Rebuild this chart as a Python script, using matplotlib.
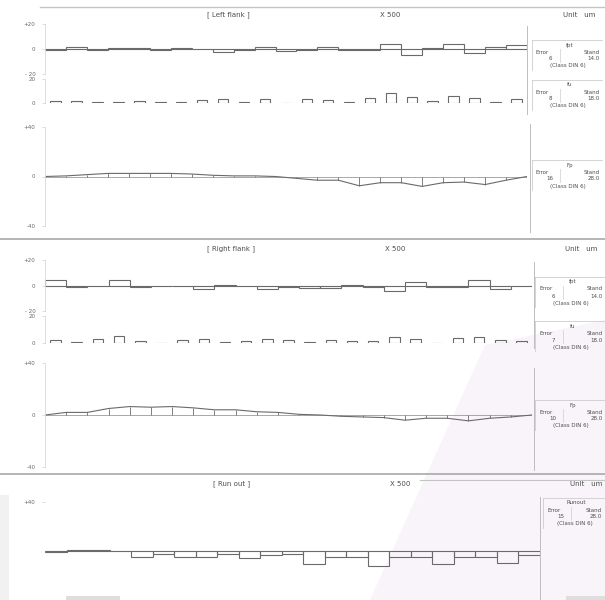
import matplotlib
matplotlib.use("Agg")
import matplotlib.pyplot as plt
from matplotlib.lines import Line2D
from matplotlib.patches import Rectangle, Polygon
import numpy as np

# ---- measured values (micrometres), 23 teeth ----
teeth = np.arange(23)
points = np.arange(24)

left_fpt = [-0.5, 1.5, -0.5, 0.5, 0.5, -1.0, 0.5, 0.0, -2.5, -0.5, 1.5, -1.5,
            -0.5, 1.5, -1.0, -0.5, 4.0, -5.0, 0.5, 4.0, -3.0, 1.5, 3.0]
left_fu = [2.0, 2.0, 1.0, 1.0, 1.5, 1.0, 1.0, 2.5, 3.0, 1.0, 3.5, 0.3,
           3.0, 2.5, 1.0, 4.0, 8.0, 5.0, 1.5, 5.5, 4.5, 1.0, 3.0]
left_fp = [0.0, 0.5, 1.5, 2.5, 2.5, 2.5, 2.5, 2.0, 1.0, 0.5, 0.5, 0.0,
           -1.5, -3.0, -3.0, -7.5, -5.0, -5.0, -8.0, -5.0, -4.5, -6.5, -3.0, 0.0]

right_fpt = [4.5, -1.0, -0.5, 4.5, -1.5, 0.0, 0.0, -2.5, 0.5, -0.5, -2.5, -1.5,
             -2.0, -2.0, 0.5, -1.5, -4.0, 2.5, -1.5, -1.5, 4.5, -3.0, -0.5]
right_fu = [2.0, 0.5, 2.7, 5.3, 1.6, 0.3, 2.0, 2.7, 0.8, 1.3, 3.2, 2.0,
            0.5, 2.0, 1.3, 1.3, 4.8, 3.2, 0.3, 4.0, 4.8, 1.9, 1.3]
right_fp = [0.0, 2.0, 2.0, 5.0, 6.5, 6.0, 6.5, 5.5, 4.0, 4.0, 2.5, 2.0,
            0.5, 0.0, -1.0, -1.5, -2.0, -4.0, -2.5, -2.5, -4.5, -2.5, -1.5, 0.0]

runout = [-0.5, 0.5, 0.5, 0.0, -4.5, -2.5, -4.5, -4.5, -2.5, -6.0, -3.5, -2.5,
          -11.0, -5.0, -5.0, -12.5, -5.0, -5.0, -11.0, -4.5, -5.0, -10.0, -3.5]

# summary tables: (name, error, standard)
left_info = [("fpt", "6", "14.0"), ("fu", "8", "18.0"), ("Fp", "16", "28.0")]
right_info = [("fpt", "6", "14.0"), ("fu", "7", "18.0"), ("Fp", "10", "28.0")]
runout_info = ("Runout", "15", "28.0")

W, H = 605, 600
fig = plt.figure(figsize=(W / 100, H / 100), dpi=100)
fig.patch.set_facecolor("white")

INK = "#6a6a6a"
TXT = "#4d4d4d"
FAINT = "#cdcdcd"


def fx(x):
    return x / W


def fy(y):
    return 1 - y / H


def hline(y, x0, x1, color="#b5b5b5", lw=1.0):
    fig.add_artist(Line2D([fx(x0), fx(x1)], [fy(y), fy(y)], color=color, lw=lw))


def vline(x, y0, y1, color="#bdbdbd", lw=0.7):
    fig.add_artist(Line2D([fx(x), fx(x)], [fy(y0), fy(y1)], color=color, lw=lw))


def panel(x0, x1, y_top, y_bot, ylim, ticks, labels):
    ax = fig.add_axes([fx(x0), fy(y_bot), (x1 - x0) / W, (y_bot - y_top) / H])
    ax.set_xlim(0, 23)
    ax.set_ylim(*ylim)
    ax.patch.set_alpha(0)
    for s in ("top", "right", "bottom"):
        ax.spines[s].set_visible(False)
    ax.spines["left"].set_color("#d8d8d8")
    ax.spines["left"].set_linewidth(0.6)
    ax.set_xticks([])
    ax.set_yticks(ticks, labels)
    ax.tick_params(axis="y", labelsize=4, labelcolor="#666666", color="#d0d0d0",
                   length=2, width=0.5, pad=5)
    return ax


def step_boxes(ax, values):
    ax.bar(teeth + 0.5, values, width=1.0, fill=False, edgecolor=INK, linewidth=0.8)


def small_bars(ax, values):
    ax.bar(teeth + 0.5, values, width=0.5, fill=False, edgecolor=INK, linewidth=0.8)


def cumulative(ax, values):
    ax.axhline(0, color="#9a9a9a", lw=0.6)
    ax.vlines(points, 0, values, color=INK, lw=0.6)
    ax.plot(points, values, color=INK, lw=0.8)


def info_box(x, y, name, err, std, w=70):
    hline(y, x, x + w, color=FAINT, lw=0.6)
    vline(x, y, y + 30, color=FAINT, lw=0.6)
    kw = dict(fontsize=4, color=TXT, va="center")
    fig.text(fx(x + w / 2 + 3), fy(y + 5), name, ha="center", **kw)
    fig.text(fx(x + 4), fy(y + 12), "Error", ha="left", **kw)
    vline(x + 28, y + 9, y + 22, color=FAINT, lw=0.5)
    fig.text(fx(x + w - 2), fy(y + 12), "Stand", ha="right", **kw)
    fig.text(fx(x + 18), fy(y + 19), err, ha="center", **kw)
    fig.text(fx(x + w - 2), fy(y + 19), std, ha="right", **kw)
    fig.text(fx(x + w / 2 + 1), fy(y + 26), "(Class DIN 6)", ha="center", **kw)


def header(y, title, tx, mx, ux):
    kw = dict(fontsize=5, color=TXT, va="center")
    fig.text(fx(tx), fy(y), "[ " + title + " ]", ha="left", **kw)
    fig.text(fx(mx), fy(y), "X 500", ha="left", **kw)
    fig.text(fx(ux), fy(y), "Unit   um", ha="left", **kw)


# ---- faint scan shading ----
bg = fig.add_axes([0, 0, 1, 1], zorder=-5)
bg.set_xlim(0, W)
bg.set_ylim(H, 0)
bg.axis("off")
bg.add_patch(Polygon([(485, 345), (605, 320), (605, 600), (370, 600)],
                     closed=True, facecolor="#f8f4f9", edgecolor="none"))
bg.add_patch(Rectangle((0, 495), 9, 105, facecolor="#f1f1f1", edgecolor="none"))
bg.add_patch(Rectangle((66, 596), 54, 4, facecolor="#dedede", edgecolor="none"))
bg.add_patch(Rectangle((566, 596), 39, 4, facecolor="#dedede", edgecolor="none"))

# ---- Left flank ----
hline(7, 40, 605, color="#c4c4c4", lw=1.0)
header(15, "Left flank", 207, 380, 563)

ax = panel(45, 527, 24, 74, (-20, 20), [20, 0, -20], ["+20", "0", "- 20"])
step_boxes(ax, left_fpt)
ax = panel(45, 527, 79, 103, (0, 20), [20, 0], ["20", "0"])
small_bars(ax, left_fu)
ax = panel(45, 527, 127, 226, (-40, 40), [40, 0, -40], ["+40", "0", "-40"])
cumulative(ax, left_fp)

vline(527, 26, 114)
vline(530, 124, 232)
for (name, err, std), yb in zip(left_info, [40, 80, 160]):
    info_box(532, yb, name, err, std)

# ---- Right flank ----
hline(239, 0, 605, color="#a9a9a9", lw=1.2)
header(249, "Right flank", 207, 385, 565)

ax = panel(45, 532, 260, 311, (-20, 20), [20, 0, -20], ["+20", "0", "- 20"])
step_boxes(ax, right_fpt)
ax = panel(45, 532, 316, 343, (0, 20), [20, 0], ["20", "0"])
small_bars(ax, right_fu)
ax = panel(45, 532, 363, 467, (-40, 40), [40, 0, -40], ["+40", "0", "-40"])
cumulative(ax, right_fp)

vline(534, 262, 348)
vline(534, 368, 470)
for (name, err, std), yb in zip(right_info, [277, 321, 400]):
    info_box(535, yb, name, err, std)

# ---- Run out ----
hline(474, 0, 605, color="#a9a9a9", lw=1.2)
hline(480, 420, 605, color="#c4c4c4", lw=0.8)
header(484, "Run out", 213, 390, 570)

ax = panel(45, 540, 502, 600, (-40, 40), [40], ["+40"])
ax.spines["left"].set_visible(False)
step_boxes(ax, runout)
vline(540, 497, 600)
info_box(543, 498, *runout_info, w=61)

fig.savefig("out.png", dpi=100, facecolor="white")
